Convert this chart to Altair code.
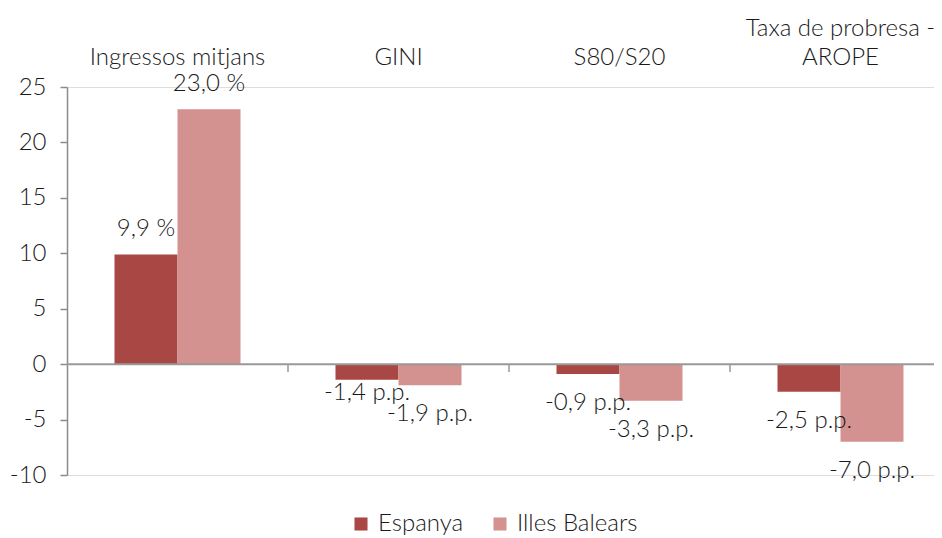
import altair as alt
import pandas as pd

categories = ["Ingressos mitjans", "GINI", "S80/S20", "Taxa de probresa -|AROPE"]
units = ["%", "p.p.", "p.p.", "p.p."]
series = ["Espanya", "Illes Balears"]
espanya = [9.9, -1.4, -0.9, -2.5]
balears = [23.0, -1.9, -3.3, -7.0]
y_ticks = [-10, -5, 0, 5, 10, 15, 20, 25]
colors = ["#A94744", "#D39190"]

rows = []
for i, c in enumerate(categories):
    for s, vals in zip(series, [espanya, balears]):
        v = vals[i]
        txt = f"{v:.1f}".replace(".", ",") + " " + units[i]
        rows.append({"cat": c, "serie": s, "value": v, "label": txt})
df = pd.DataFrame(rows)
cat_df = pd.DataFrame({"cat": categories[1:]})

FONT = "Lato, sans-serif"
FW = 300
FS = 24
TXT = "#1a1a1a"

xscale = alt.Scale(domain=categories, range=[0, 884], paddingInner=0, paddingOuter=0)
yscale = alt.Scale(domain=[-10, 25], nice=False, zero=False)

x_enc = alt.X("cat:N", scale=xscale, sort=categories,
              axis=alt.Axis(orient="top", title=None, ticks=False, domain=False,
                            labelAngle=0, labelPadding=47, labelFontSize=FS,
                            labelFont=FONT, labelFontWeight=FW, labelColor=TXT,
                            labelLineHeight=29, labelLimit=400,
                            labelExpr="length(split(datum.label, '|')) > 1 ? split(datum.label, '|') : ['', datum.label]"))
xoff = alt.XOffset("serie:N", sort=series,
                   scale=alt.Scale(paddingOuter=0.754, paddingInner=0))

bars = alt.Chart(df).mark_bar().encode(
    x=x_enc,
    xOffset=xoff,
    y=alt.Y("value:Q", scale=yscale,
            axis=alt.Axis(values=y_ticks, title=None, grid=False, domainColor="#8c8c8c",
                          domainWidth=1.5, tickColor="#8c8c8c", tickWidth=1.5, tickSize=7,
                          labelPadding=14, labelFontSize=FS, labelFont=FONT,
                          labelFontWeight=FW, labelColor=TXT,
                          labelExpr="'' + datum.value")),
    color=alt.Color("serie:N", sort=series,
                    scale=alt.Scale(domain=series, range=colors),
                    legend=alt.Legend(title=None, orient="none", direction="horizontal",
                                      legendX=282, legendY=425, symbolType="square",
                                      symbolSize=170, symbolStrokeWidth=0,
                                      labelFontSize=FS, labelFont=FONT,
                                      labelFontWeight=FW, labelColor=TXT,
                                      columnPadding=24, labelOffset=5)),
)


def text_layer(flt, dy):
    return alt.Chart(df).transform_filter(flt).mark_text(
        fontSize=FS, font=FONT, fontWeight=FW, color=TXT, baseline="middle", dy=dy
    ).encode(x=alt.X("cat:N", scale=xscale, sort=categories), xOffset=xoff,
             y=alt.Y("value:Q", scale=yscale), text="label:N")


pos_text = text_layer("datum.value >= 0", -25)
close_pair = "datum.value < 0 && datum.serie == 'Espanya' && datum.cat == 'GINI'"
neg_text = text_layer("datum.value < 0 && !(" + close_pair + ")", 29)
neg_text_close = text_layer(close_pair, 13)

zero = alt.Chart(pd.DataFrame({"v": [0]})).mark_rule(color="#999999", strokeWidth=2).encode(
    y=alt.Y("v:Q", scale=yscale), x=alt.value(0), x2=alt.value(884))

ticks = alt.Chart(cat_df).mark_rule(color="#999999", strokeWidth=1.5).encode(
    x=alt.X("cat:N", scale=xscale, sort=categories, bandPosition=0),
    y=alt.datum(0, scale=yscale), y2=alt.datum(-0.7))

chart = alt.layer(bars, zero, ticks, pos_text, neg_text, neg_text_close).properties(
    width=867, height=388,
    autosize=alt.AutoSizeParams(type="none"),
    padding={"left": 59, "top": 79, "right": 0, "bottom": 63},
).configure_view(stroke=None).configure(background="white")

chart.save("out.html", embed_options={"renderer": "svg", "actions": False})
